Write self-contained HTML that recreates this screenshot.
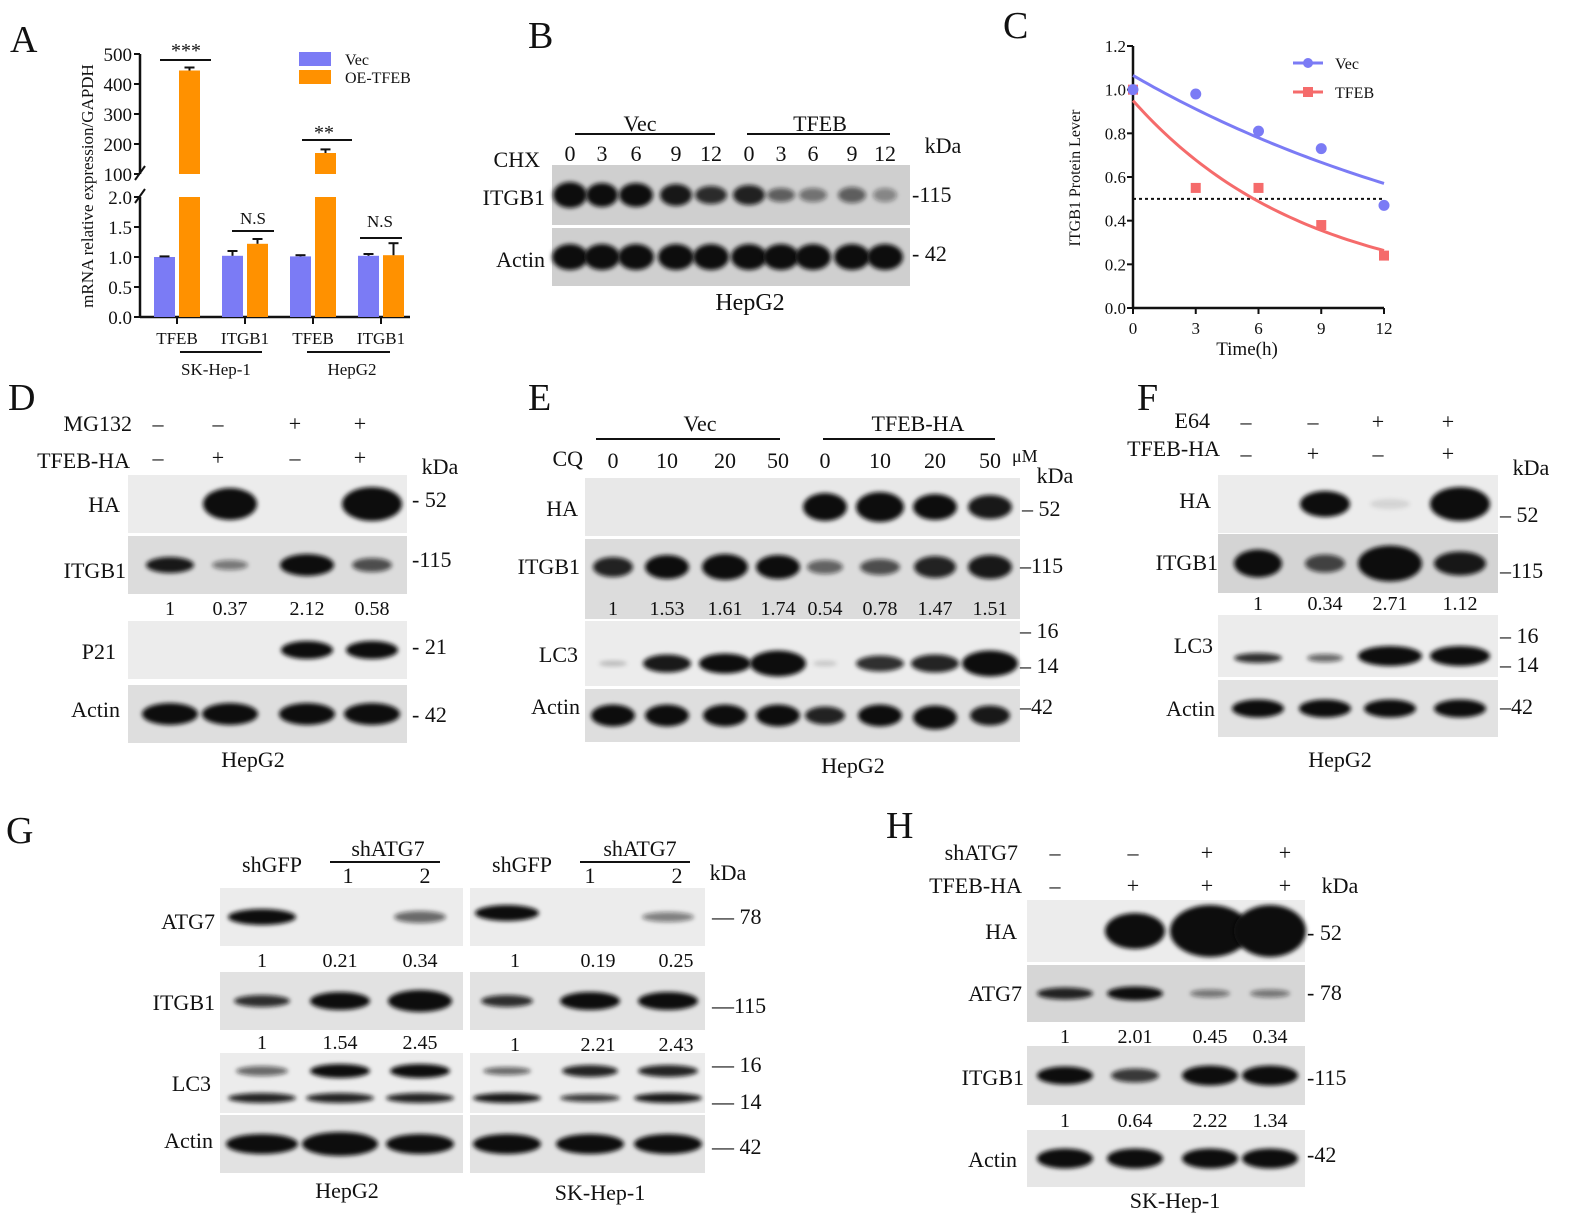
<!DOCTYPE html>
<html><head><meta charset="utf-8"><style>
body{margin:0;background:#fff}
svg text{font-family:"Liberation Serif",serif;fill:#111}
</style></head><body>
<svg id="fig" width="1576" height="1224" viewBox="0 0 1576 1224" xmlns="http://www.w3.org/2000/svg" font-family="Liberation Serif, serif">
<defs><filter id="bl" x="-20%" y="-50%" width="140%" height="200%"><feGaussianBlur stdDeviation="2"/></filter></defs>
<g id="root"></g>
</svg>
<script>
// ---- Panel A data ----
const aCategories = ["TFEB","ITGB1","TFEB","ITGB1"];
const aVec = [1.0, 1.02, 1.01, 1.02];
const aVecErr = [0.01, 0.08, 0.02, 0.03];
const aOE = [445, 1.22, 170, 1.03];
const aOEErr = [10, 0.08, 12, 0.2];
const aLowTicks = ["0.0","0.5","1.0","1.5","2.0"];
const aHighTicks = ["100","200","300","400","500"];
// ---- Panel C data ----
const cTimes = [0,3,6,9,12];
const cVec = [1.0, 0.98, 0.81, 0.73, 0.47];
const cTFEB = [1.0, 0.55, 0.55, 0.38, 0.24];
const cVecFit = [1.065, 0.052]; // y0, k
const cTFEBFit = [0.9, 0.12, 0.05]; // span, k, plateau
const cYTicks = ["0.0","0.2","0.4","0.6","0.8","1.0","1.2"];

const NS="http://www.w3.org/2000/svg";
const root=document.getElementById('root');
function el(tag,attrs,parent,txt){const e=document.createElementNS(NS,tag);for(const k in attrs)e.setAttribute(k,attrs[k]);if(txt!==undefined)e.textContent=txt;(parent||root).appendChild(e);return e;}
function T(x,y,s,size,anchor,name,parent){const t=el('text',{x:x,y:y,'font-size':size||20,'text-anchor':anchor||'middle','font-family':'Liberation Serif, serif'},parent,s);

return t;}
function L(x1,y1,x2,y2,w,parent,dash){const l=el('line',{x1,y1,x2,y2,stroke:'#111','stroke-width':w||2},parent);if(dash)l.setAttribute('stroke-dasharray',dash);

return l;}

[["A",10,52],["B",528,48],["C",1003,38],["D",8,410],["E",528,410],["F",1137,410],["G",6,843],["H",886,838]].forEach(p=>{T(p[1],p[2],p[0],38,'start','panel-label-'+p[0].toLowerCase());});

// ===== Panel A =====
(function(){
const g=el('g',{});


const ax=140, lowY0=317, lowY1=197, hiY0=174, hiY1=54;
const yLow=v=>lowY0-(v/2)*(lowY0-lowY1);
const yHi=v=>hiY0-((v-100)/400)*(hiY0-hiY1);
const yv=v=>v<=2?yLow(v):yHi(v);
const groupX=[154,222,290,358], bw=21, gap=25;
L(ax,lowY0,ax,lowY1,2.5,g);L(ax,hiY0,ax,hiY1,2.5,g);
L(ax-5,hiY0+6,ax+5,hiY0-8,2,g);L(ax-5,lowY1+6,ax+5,lowY1-8,2,g);
aLowTicks.forEach((t,i)=>{const y=yLow(+t);L(ax-6,y,ax,y,2,g);T(ax-8,y+7,t,19,'end','y-tick',g);});
aHighTicks.forEach((t,i)=>{const y=yHi(+t);L(ax-6,y,ax,y,2,g);T(ax-8,y+7,t,19,'end','y-tick',g);});
L(ax,lowY0,410,lowY0,2.5,g);
const bar=(x,v,c,e,name)=>{
 if(v<=2){const r=el('rect',{x:x,y:yv(v),width:bw,height:lowY0-yv(v),fill:c},g);}
 else{const r1=el('rect',{x:x,y:lowY1,width:bw,height:lowY0-lowY1,fill:c},g);
 const r2=el('rect',{x:x,y:yv(v),width:bw,height:hiY0-yv(v),fill:c},g);}
 const cx=x+bw/2, yt=yv(v+e);L(cx,yv(v),cx,yt,2,g);L(cx-5,yt,cx+5,yt,2,g);
};
aCategories.forEach((c,i)=>{bar(groupX[i],aVec[i],'#7b7bf5',aVecErr[i],'bar-vec-'+i);bar(groupX[i]+gap,aOE[i],'#ff9100',aOEErr[i],'bar-oe-'+i);
 const cx=groupX[i]+23;L(cx,lowY0,cx,lowY0+7,2,g);T(cx,lowY0+27,c,17,'middle','x-tick',g);});
L(180,352,262,352,2,g);L(307,352,390,352,2,g);T(216,375,"SK-Hep-1",17,'middle','group-label',g);T(352,375,"HepG2",17,'middle','group-label',g);
L(160,60,211,60,2,g);T(186,57,"***",20,'middle','sig-label',g);
L(302,140,352,140,2,g);T(324,139,"**",20,'middle','sig-label',g);
L(232,231,274,231,2,g);T(253,224,"N.S",17,'middle','sig-label',g);
L(360,238,402,238,2,g);T(380,227,"N.S",17,'middle','sig-label',g);
const r1=el('rect',{x:299,y:52,width:32,height:14,fill:'#7b7bf5'},g);
const r2=el('rect',{x:299,y:70,width:32,height:14,fill:'#ff9100'},g);
T(345,65,"Vec",16,'start','legend-vec',g);T(345,83,"OE-TFEB",16,'start','legend-oe',g);
const yt=T(93,186,"mRNA relative expression/GAPDH",17,'middle','y-axis-title',g);yt.setAttribute('transform','rotate(-90 93 186)');
})();

// ===== Panel C =====
(function(){
const g=el('g',{});


const x0=1133,x1=1384,y0=308,y1=46;
const X=t=>x0+t/12*(x1-x0), Y=v=>y0-v/1.2*(y0-y1);
L(x0,y0,x0,y1,2.5,g);L(x0,y0,x1,y0,2.5,g);
cYTicks.forEach(t=>{const y=Y(+t);L(x0-6,y,x0,y,2,g);T(x0-7,y+6,t,17,'end','y-tick',g);});
cTimes.forEach(t=>{L(X(t),y0,X(t),y0+6,2,g);T(X(t),y0+26,String(t),17,'middle','x-tick',g);});
T(1247,355,"Time(h)",19,'middle','x-axis-title',g);
const yt=T(1080,178,"ITGB1 Protein Lever",16,'middle','y-axis-title',g);yt.setAttribute('transform','rotate(-90 1080 178)');
L(x0,Y(0.5),x1,Y(0.5),2,g,'3,3');
let pv='',pt='';for(let t=0;t<=12;t+=0.25){pv+=(t?'L':'M')+X(t)+','+Y(cVecFit[0]*Math.exp(-cVecFit[1]*t));pt+=(t?'L':'M')+X(t)+','+Y(cTFEBFit[2]+cTFEBFit[0]*Math.exp(-cTFEBFit[1]*t));}
const p1=el('path',{d:pv,stroke:'#7b7bf5','stroke-width':3,fill:'none'},g);
const p2=el('path',{d:pt,stroke:'#f56b6b','stroke-width':3,fill:'none'},g);
cTimes.forEach((t,i)=>{const r=el('rect',{x:X(t)-5,y:Y(cTFEB[i])-5,width:10,height:10,fill:'#f56b6b'},g);});
cTimes.forEach((t,i)=>{const c=el('circle',{cx:X(t),cy:Y(cVec[i]),r:5.5,fill:'#7b7bf5'},g);});
L(1293,63,1323,63,3,g).setAttribute('stroke','#7b7bf5');const c=el('circle',{cx:1308,cy:63,r:5,fill:'#7b7bf5'},g);
L(1293,92,1323,92,3,g).setAttribute('stroke','#f56b6b');const r=el('rect',{x:1303,y:87,width:10,height:10,fill:'#f56b6b'},g);
T(1335,69,"Vec",16,'start','legend-vec',g);T(1335,98,"TFEB",16,'start','legend-tfeb',g);
})();

// ===== Blots =====
function blot(name,x,y,w,h,bg,lanes,bands){
 const g=el('g',{});
 
 
 const r=el('rect',{x,y,width:w,height:h,fill:bg},g);
 bands.forEach((b,i)=>{ if(!b)return; const [inten,dy,bw,bh]=b; if(inten<=0)return;
  const e=el('ellipse',{cx:lanes[i],cy:y+h/2+(dy||0),rx:(bw||28),ry:(bh||9),fill:'#111','fill-opacity':Math.min(1,inten),filter:'url(#bl)'},g);
  });
}
const bL=[570,602,636,676,711,749,781,813,852,885];
blot('blot-b-itgb1',552,165,358,60,'#cfcfcf',bL,[[1,0,17,13],[1,0,16,12],[1,0,17,12],[0.95,0,16,11],[0.85,0,16,9],[0.9,0,16,10],[0.6,0,14,7],[0.5,0,14,7],[0.6,0,14,8],[0.4,0,12,7]]);
blot('blot-b-actin',552,228,358,58,'#cfcfcf',bL,bL.map(()=>[1,0,18,13]));
T(640,131,"Vec",22,'middle','group-vec');L(575,134,715,134,2);T(820,131,"TFEB",22,'middle','group-tfeb');L(747,134,890,134,2);
T(540,167,"CHX",22,'end','row-chx');["0","3","6","9","12"].concat(["0","3","6","9","12"]).forEach((s,i)=>T(bL[i],161,s,22,'middle','chx-time'));
T(943,153,"kDa",22,'middle','kda');T(545,205,"ITGB1",22,'end','row-itgb1');T(545,267,"Actin",22,'end','row-actin');
T(912,202,"-115",22,'start','marker-115');T(912,261,"- 42",22,'start','marker-42');T(750,310,"HepG2",24,'middle','cell-line');

const dL=[170,230,307,372];
blot('blot-d-ha',128,475,279,58,'#ececec',dL,[0,[1,0,27,16],0,[1,0,30,17]]);
blot('blot-d-itgb1',128,536,279,58,'#dcdcdc',dL,[[0.95,0,24,8],[0.5,0,18,5],[1,0,27,11],[0.7,0,20,7]]);
blot('blot-d-p21',128,621,279,58,'#ececec',dL,[0,0,[1,0,26,9],[1,0,26,9]]);
blot('blot-d-actin',128,685,279,58,'#dedede',dL,dL.map(()=>[1,0,28,11]));
T(132,431,"MG132",22,'end','row-mg132');T(130,468,"TFEB-HA",22,'end','row-tfeb-ha');
["–","–","+","+"].forEach((s,i)=>T(dL[i]-12,431,s,22,'middle','sign'));["–","+","–","+"].forEach((s,i)=>T(dL[i]-12,465,s,22,'middle','sign'));
T(440,474,"kDa",22,'middle','kda');
T(120,512,"HA",22,'end','row-ha');T(126,578,"ITGB1",22,'end','row-itgb1');T(116,659,"P21",22,'end','row-p21');T(120,717,"Actin",22,'end','row-actin');
["1","0.37","2.12","0.58"].forEach((s,i)=>T(dL[i],615,s,20,'middle','quant'));
T(412,507,"- 52",22,'start','marker-52');T(412,567,"-115",22,'start','marker-115');T(412,654,"- 21",22,'start','marker-21');T(412,722,"- 42",22,'start','marker-42');
T(253,767,"HepG2",22,'middle','cell-line');

const eL=[613,667,725,778,825,880,935,990];
blot('blot-e-ha',585,478,435,58,'#e8e8e8',eL,[0,0,0,0,[1,0,22,14],[1,0,24,15],[1,0,22,13],[0.95,0,22,12]]);
blot('blot-e-itgb1',585,539,435,80,'#dcdcdc',eL,[[0.9,-12,20,10],[1,-12,22,12],[1,-12,23,13],[1,-12,22,12],[0.6,-12,18,7],[0.7,-12,20,8],[0.9,-12,21,11],[0.95,-12,22,12]]);
blot('blot-e-lc3',585,621,435,65,'#ececec',eL,[[0.2,10,14,3],[0.95,10,24,9],[1,10,26,10],[1,10,28,13],[0.15,10,12,3],[0.85,10,24,8],[0.9,10,24,9],[1,10,28,13]]);
blot('blot-e-actin',585,689,435,53,'#dedede',eL,[[1,0,22,11],[1,0,22,11],[1,0,22,11],[1,0,22,11],[0.9,0,20,9],[1,0,22,11],[1,2,22,12],[0.95,0,20,10]]);
T(700,431,"Vec",22,'middle','group-vec');L(596,439,780,439,2);T(918,431,"TFEB-HA",22,'middle','group-tfeb-ha');L(823,439,995,439,2);
T(583,466,"CQ",22,'end','row-cq');["0","10","20","50","0","10","20","50"].forEach((s,i)=>T(eL[i],468,s,22,'middle','cq-dose'));
T(1012,462,"μM",18,'start','unit');T(1055,483,"kDa",22,'middle','kda');
T(578,516,"HA",22,'end','row-ha');T(580,574,"ITGB1",22,'end','row-itgb1');T(578,662,"LC3",22,'end','row-lc3');T(580,714,"Actin",22,'end','row-actin');
["1","1.53","1.61","1.74","0.54","0.78","1.47","1.51"].forEach((s,i)=>T(eL[i],615,s,20,'middle','quant'));
T(1022,516,"– 52",22,'start','marker-52');T(1020,573,"–115",22,'start','marker-115');T(1020,638,"– 16",22,'start','marker-16');T(1020,673,"– 14",22,'start','marker-14');T(1020,714,"–42",22,'start','marker-42');
T(853,773,"HepG2",22,'middle','cell-line');

const fL=[1258,1325,1390,1460];
blot('blot-f-ha',1218,475,280,58,'#ececec',fL,[0,[1,0,25,13],[0.1,0,20,5],[1,0,30,17]]);
blot('blot-f-itgb1',1218,534,280,59,'#d4d4d4',fL,[[1,0,24,14],[0.75,0,20,9],[1,0,32,18],[0.95,0,26,12]]);
blot('blot-f-lc3',1218,615,280,62,'#ececec',fL,[[0.85,12,24,5],[0.6,12,18,4],[1,10,32,10],[1,10,30,10]]);
blot('blot-f-actin',1218,680,280,57,'#e2e2e2',fL,fL.map(()=>[1,0,26,9]));
T(1210,428,"E64",22,'end','row-e64');T(1220,456,"TFEB-HA",22,'end','row-tfeb-ha');
["–","–","+","+"].forEach((s,i)=>T(fL[i]-12,429,s,22,'middle','sign'));["–","+","–","+"].forEach((s,i)=>T(fL[i]-12,461,s,22,'middle','sign'));
T(1531,475,"kDa",22,'middle','kda');
T(1211,508,"HA",22,'end','row-ha');T(1218,570,"ITGB1",22,'end','row-itgb1');T(1213,653,"LC3",22,'end','row-lc3');T(1215,716,"Actin",22,'end','row-actin');
["1","0.34","2.71","1.12"].forEach((s,i)=>T(fL[i],610,s,20,'middle','quant'));
T(1500,522,"– 52",22,'start','marker-52');T(1500,578,"–115",22,'start','marker-115');T(1500,643,"– 16",22,'start','marker-16');T(1500,672,"– 14",22,'start','marker-14');T(1500,714,"–42",22,'start','marker-42');
T(1340,767,"HepG2",22,'middle','cell-line');

const gL1=[262,340,420], gL2=[507,590,668];
blot('blot-g-atg7-hepg2',220,888,243,58,'#ececec',gL1,[[1,0,34,8],0,[0.6,0,26,6]]);
blot('blot-g-atg7-sk',470,888,235,58,'#ececec',gL2,[[1,-4,32,8],0,[0.5,0,26,5]]);
blot('blot-g-itgb1-hepg2',220,972,243,58,'#e2e2e2',gL1,[[0.85,0,28,6],[1,0,30,9],[1,0,32,11]]);
blot('blot-g-itgb1-sk',470,972,235,58,'#e2e2e2',gL2,[[0.85,0,26,6],[1,0,30,9],[1,0,30,9]]);
blot('blot-g-lc3-hepg2',220,1053,243,60,'#ececec',gL1,[[0.6,-12,26,5],[1,-12,30,7],[1,-12,30,7]]);
blot('blot-g-lc3b-hepg2',220,1083,243,30,'#ececec',gL1,[[0.9,0,34,5],[0.9,0,34,5],[0.9,0,34,5]]);
blot('blot-g-lc3-sk',470,1053,235,60,'#ececec',gL2,[[0.6,-12,24,4],[0.9,-12,28,6],[0.9,-12,30,6]]);
blot('blot-g-lc3b-sk',470,1083,235,30,'#ececec',gL2,[[0.95,0,34,5],[0.8,0,30,4],[0.95,0,34,5]]);
blot('blot-g-actin-hepg2',220,1115,243,58,'#e2e2e2',gL1,[[1,0,36,10],[1,0,38,12],[1,0,34,10]]);
blot('blot-g-actin-sk',470,1115,235,58,'#e2e2e2',gL2,[[1,0,34,10],[1,0,34,10],[1,0,34,10]]);
T(272,872,"shGFP",22,'middle','col-shgfp');T(388,856,"shATG7",22,'middle','col-shatg7');L(330,862,440,862,2);T(348,883,"1",22,'middle','col');T(425,883,"2",22,'middle','col');
T(522,872,"shGFP",22,'middle','col-shgfp');T(640,856,"shATG7",22,'middle','col-shatg7');L(580,862,690,862,2);T(590,883,"1",22,'middle','col');T(677,883,"2",22,'middle','col');
T(728,880,"kDa",22,'middle','kda');
T(215,929,"ATG7",22,'end','row-atg7');T(215,1010,"ITGB1",22,'end','row-itgb1');T(211,1091,"LC3",22,'end','row-lc3');T(213,1148,"Actin",22,'end','row-actin');
["1","0.21","0.34"].forEach((s,i)=>T(gL1[i],967,s,20,'middle','quant'));["1","0.19","0.25"].forEach((s,i)=>T(gL2[i]+8,967,s,20,'middle','quant'));
["1","1.54","2.45"].forEach((s,i)=>T(gL1[i],1049,s,20,'middle','quant'));["1","2.21","2.43"].forEach((s,i)=>T(gL2[i]+8,1051,s,20,'middle','quant'));
T(712,924,"— 78",22,'start','marker-78');T(712,1013,"—115",22,'start','marker-115');T(712,1072,"— 16",22,'start','marker-16');T(712,1109,"— 14",22,'start','marker-14');T(712,1154,"— 42",22,'start','marker-42');
T(347,1198,"HepG2",22,'middle','cell-line');T(600,1200,"SK-Hep-1",22,'middle','cell-line');

const hL=[1065,1135,1210,1270];
blot('blot-h-ha',1027,900,278,62,'#ececec',hL,[0,[1,0,30,18],[1,0,40,26],[1,0,36,26]]);
blot('blot-h-atg7',1027,965,278,57,'#d6d6d6',hL,[[0.9,0,28,6],[1,0,28,7],[0.5,0,20,4],[0.5,0,20,4]]);
blot('blot-h-itgb1',1027,1046,278,59,'#dedede',hL,[[1,0,28,9],[0.8,0,24,7],[1,0,28,10],[1,0,28,10]]);
blot('blot-h-actin',1027,1130,278,57,'#e6e6e6',hL,hL.map(()=>[1,0,28,10]));
T(1018,860,"shATG7",22,'end','row-shatg7');T(1022,893,"TFEB-HA",22,'end','row-tfeb-ha');
["–","–","+","+"].forEach((s,i)=>T([1055,1133,1207,1285][i],860,s,22,'middle','sign'));["–","+","+","+"].forEach((s,i)=>T([1055,1133,1207,1285][i],893,s,22,'middle','sign'));
T(1340,893,"kDa",22,'middle','kda');
T(1017,939,"HA",22,'end','row-ha');T(1022,1001,"ATG7",22,'end','row-atg7');T(1024,1085,"ITGB1",22,'end','row-itgb1');T(1017,1167,"Actin",22,'end','row-actin');
["1","2.01","0.45","0.34"].forEach((s,i)=>T(hL[i],1043,s,20,'middle','quant'));["1","0.64","2.22","1.34"].forEach((s,i)=>T(hL[i],1127,s,20,'middle','quant'));
T(1307,940,"- 52",22,'start','marker-52');T(1307,1000,"- 78",22,'start','marker-78');T(1307,1085,"-115",22,'start','marker-115');T(1307,1162,"-42",22,'start','marker-42');
T(1175,1208,"SK-Hep-1",22,'middle','cell-line');
</script>
</body></html>
